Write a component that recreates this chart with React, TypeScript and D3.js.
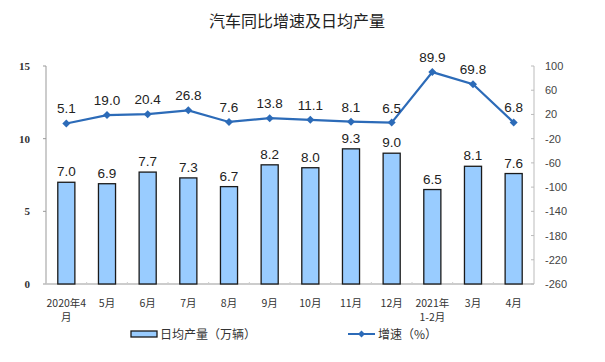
import React from "react";
import * as d3 from "d3";

const categories: string[][] = [
  ["2020年4", "月"], ["5月"], ["6月"], ["7月"], ["8月"], ["9月"],
  ["10月"], ["11月"], ["12月"], ["2021年", "1-2月"], ["3月"], ["4月"],
];
const dailyOutput = [7.0, 6.9, 7.7, 7.3, 6.7, 8.2, 8.0, 9.3, 9.0, 6.5, 8.1, 7.6];
const growth = [5.1, 19.0, 20.4, 26.8, 7.6, 13.8, 11.1, 8.1, 6.5, 89.9, 69.8, 6.8];
const leftTicks = [0, 5, 10, 15];
const rightTicks = [100, 60, 20, -20, -60, -100, -140, -180, -220, -260];
const title = "汽车同比增速及日均产量";
const barLegend = "日均产量（万辆）";
const lineLegend = "增速（%）";

const W = 605, H = 362;
const left = 46, right = 534, top = 66, bottom = 284;
const barColor = "#99CCFF";
const lineColor = "#2C6BB8";
const cjk = "'Noto Sans CJK SC', 'Noto Sans', sans-serif";
const sans = "'Liberation Sans', Arial, sans-serif";

export default function App() {
  const idx = categories.map((_, i) => String(i));
  const x = d3.scaleBand().domain(idx).range([left, right]).paddingInner(0).paddingOuter(0);
  const yL = d3.scaleLinear().domain([0, 15]).range([bottom, top]);
  const yR = d3.scaleLinear().domain([-260, 100]).range([bottom, top]);
  const bw = x.bandwidth() * 0.42;
  const cx = (i: number) => (x(String(i)) as number) + x.bandwidth() / 2;
  const line = d3.line<number>().x((_, i) => cx(i)).y((d) => yR(d));
  const diamond = (px: number, py: number, r: number) =>
    `M${px},${py - r}L${px + r},${py}L${px},${py + r}L${px - r},${py}Z`;

  return (
    <svg width={W} height={H} style={{ position: "absolute", left: 0, top: 0, background: "#fff" }}>
      <text x={297} y={27} textAnchor="middle" fontFamily={cjk} fontSize={16} fill="#222">{title}</text>

      {/* left axis */}
      <line x1={left} x2={left} y1={top} y2={bottom} stroke="#999" strokeWidth={1} />
      {leftTicks.map((t) => (
        <g key={"l" + t}>
          <line x1={left - 3} x2={left} y1={yL(t)} y2={yL(t)} stroke="#999" />
          <text x={30} y={yL(t) + 4} textAnchor="end" fontFamily="'Liberation Serif', serif" fontWeight="bold" fontSize={11} fill="#333">{t}</text>
        </g>
      ))}

      {/* right axis */}
      <line x1={right} x2={right} y1={top} y2={bottom} stroke="#bbb" strokeWidth={1} />
      {rightTicks.map((t) => (
        <g key={"r" + t}>
          <line x1={right - 3} x2={right} y1={yR(t)} y2={yR(t)} stroke="#bbb" />
          <text x={545} y={yR(t) + 4} textAnchor="start" fontFamily={sans} fontSize={11} fill="#444">{t}</text>
        </g>
      ))}

      {/* x axis */}
      <line x1={left} x2={right} y1={bottom} y2={bottom} stroke="#bbb" strokeWidth={1.5} />
      {idx.map((d, i) => (
        <line key={"xt" + i} x1={x(d) as number} x2={x(d) as number} y1={bottom} y2={bottom - 2} stroke="#ccc" />
      ))}
      {categories.map((lines, i) => (
        <text key={"xl" + i} textAnchor="middle" fontFamily={cjk} fontSize={10.5} fill="#333">
          {lines.map((s, j) => (
            <tspan key={j} x={cx(i)} y={307 + j * 14}>{s}</tspan>
          ))}
        </text>
      ))}

      {/* bars */}
      {dailyOutput.map((v, i) => (
        <g key={"b" + i}>
          <rect x={cx(i) - bw / 2} y={yL(v)} width={bw} height={bottom - yL(v)} fill={barColor} stroke="#1a1a1a" strokeWidth={1.3} />
          <text x={cx(i)} y={yL(v) - 6} textAnchor="middle" fontFamily={sans} fontSize={13.5} fill="#222">{v.toFixed(1)}</text>
        </g>
      ))}

      {/* line */}
      <path d={line(growth) || ""} fill="none" stroke={lineColor} strokeWidth={2.2} />
      {growth.map((v, i) => (
        <g key={"p" + i}>
          <path d={diamond(cx(i), yR(v), 4)} fill={lineColor} />
          <text x={cx(i)} y={yR(v) - 10} textAnchor="middle" fontFamily={sans} fontSize={13.5} fill="#222">{v.toFixed(1)}</text>
        </g>
      ))}

      {/* legend */}
      <rect x={131} y={331} width={26} height={6} fill={barColor} stroke="#1a1a1a" strokeWidth={1.3} />
      <text x={160} y={339} fontFamily={cjk} fontSize={12} fill="#333">{barLegend}</text>
      <line x1={348} x2={375} y1={334} y2={334} stroke={lineColor} strokeWidth={2} />
      <path d={diamond(361.5, 334, 3.5)} fill={lineColor} />
      <text x={378} y={339} fontFamily={cjk} fontSize={12} fill="#333">{lineLegend}</text>
    </svg>
  );
}
